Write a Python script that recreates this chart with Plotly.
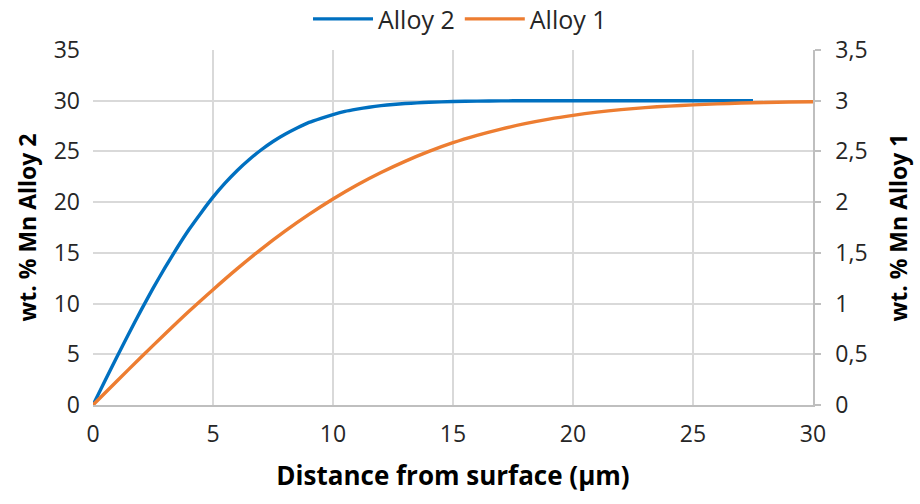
import plotly.graph_objects as go

# Distance from surface (µm)
x_alloy2 = [0, 0.5, 1, 1.5, 2, 2.5, 3, 3.5, 4, 4.5, 5, 5.5, 6, 6.5, 7, 7.5, 8, 8.5, 9, 9.5,
            10, 10.5, 11, 11.5, 12, 12.5, 13, 13.5, 14, 15, 16, 17, 18, 19, 20,
            21, 22, 23, 24, 25, 26, 27, 27.5]
wt_alloy2 = [0, 2.39, 4.76, 7.08, 9.33, 11.5, 13.54, 15.48, 17.3, 18.94, 20.49, 21.87, 23.1,
             24.18, 25.14, 25.98, 26.69, 27.31, 27.86, 28.27, 28.64, 28.95, 29.17, 29.36,
             29.51, 29.63, 29.72, 29.79, 29.85, 29.92, 29.96, 29.98, 30, 30, 30, 30, 30, 30,
             30, 30, 30, 30, 30]

x_alloy1 = [0, 1, 2, 3, 4, 5, 6, 7, 8, 9, 10, 11, 12, 13, 14, 15, 16, 17, 18, 19, 20,
            21, 22, 23, 24, 25, 26, 27, 28, 29, 30]
wt_alloy1 = [0, 0.236, 0.471, 0.70, 0.924, 1.137, 1.342, 1.535, 1.714, 1.879, 2.031,
             2.169, 2.292, 2.402, 2.50, 2.586, 2.658, 2.72, 2.774, 2.819, 2.856, 2.887,
             2.912, 2.932, 2.947, 2.959, 2.969, 2.977, 2.982, 2.987, 2.99]

x_ticks = [0, 5, 10, 15, 20, 25, 30]
y_ticks = [0, 5, 10, 15, 20, 25, 30, 35]
y2_ticks = [0, 0.5, 1, 1.5, 2, 2.5, 3, 3.5]
y2_labels = ["0", "0,5", "1", "1,5", "2", "2,5", "3", "3,5"]

FONT = "Open Sans, Noto Sans, sans-serif"
GRID = "#d9d9d9"
TXT = "#262626"

fig = go.Figure()
fig.add_trace(go.Scatter(x=x_alloy2, y=wt_alloy2, name="Alloy 2", mode="lines",
                         line=dict(color="#0070C0", width=3.4, shape="spline", smoothing=0.5),
                         yaxis="y"))
fig.add_trace(go.Scatter(x=x_alloy1, y=wt_alloy1, name="Alloy 1", mode="lines",
                         line=dict(color="#ED7D31", width=3.4, shape="spline", smoothing=0.8),
                         yaxis="y2"))

fig.update_layout(
    width=920, height=504,
    margin=dict(l=93, r=107, t=50, b=99, autoexpand=False),
    paper_bgcolor="white", plot_bgcolor="white",
    font=dict(family=FONT, color=TXT, size=22),
    showlegend=True,
    legend=dict(orientation="h", x=0.5, xanchor="center", xref="container",
                y=0.962, yanchor="middle", yref="container",
                font=dict(size=25, color=TXT), itemwidth=60, traceorder="normal",
                bgcolor="rgba(0,0,0,0)"),
    xaxis=dict(range=[0, 30], tickvals=x_ticks, showgrid=True, gridcolor=GRID, gridwidth=1.5,
               showline=True, linecolor="#bfbfbf", linewidth=1.5, zeroline=False,
               ticks="", ticklabelstandoff=8, tickfont=dict(size=23, color=TXT),
               title=dict(text="<b>Distance from surface (\u00b5m)</b>", standoff=18,
                          font=dict(size=26, color="black"))),
    yaxis=dict(range=[0, 35], tickvals=y_ticks, showgrid=True, gridcolor=GRID, gridwidth=1.5,
               showline=False, zeroline=False, ticks="", ticklabelstandoff=12,
               tickfont=dict(size=23, color=TXT),
               title=dict(text="<b>wt. % Mn Alloy 2</b>", standoff=10,
                          font=dict(size=23, color="black"))),
    yaxis2=dict(range=[0, 3.5], tickvals=y2_ticks, ticktext=y2_labels, overlaying="y",
                side="right", showgrid=False, showline=True, linecolor="#bfbfbf", linewidth=1.5,
                zeroline=False, ticks="outside", ticklen=6, tickcolor="#bfbfbf", tickwidth=1.5,
                ticklabelstandoff=10, tickfont=dict(size=23, color=TXT),
                title=dict(text="<b>wt. % Mn Alloy 1</b>", standoff=24,
                           font=dict(size=23, color="black"))),
)

fig.write_html("out.html")
